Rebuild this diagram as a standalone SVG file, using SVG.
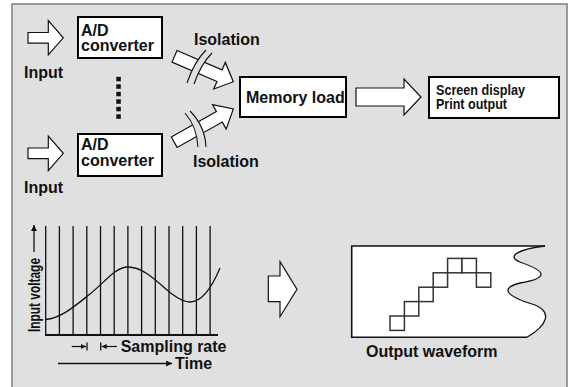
<svg xmlns="http://www.w3.org/2000/svg" width="576" height="387" viewBox="0 0 576 387">
  <style>
    .lbl { font-family: "Liberation Sans", Arial, sans-serif; font-weight: bold; font-size: 16px; fill: #111; }
    .small { font-family: "Liberation Sans", Arial, sans-serif; font-weight: bold; font-size: 14px; fill: #111; }
    .box { fill: #fff; stroke: #000; stroke-width: 2; }
    .arrow { fill: #fff; stroke: #111; stroke-width: 1.2; stroke-linejoin: miter; }
    .thin { fill: none; stroke: #111; stroke-width: 1.3; }
    .iso { fill: none; stroke: #111; stroke-width: 1.1; }
    .cell { fill: #fff; stroke: #333; stroke-width: 1.5; }
  </style>
  <defs>
    <marker id="head" viewBox="0 0 10 10" refX="10" refY="5" markerWidth="8" markerHeight="6" markerUnits="userSpaceOnUse" orient="auto">
      <path d="M0,0 L10,5 L0,10 z" fill="#111"/>
    </marker>
    <marker id="headS" viewBox="0 0 10 10" refX="10" refY="5" markerWidth="6" markerHeight="5" markerUnits="userSpaceOnUse" orient="auto">
      <path d="M0,0 L10,5 L0,10 z" fill="#111"/>
    </marker>
  </defs>

  <!-- panel background -->
  <rect x="12" y="4" width="555" height="392" fill="#e0e0e0" stroke="#858585" stroke-width="1.6"/>

  <!-- ===== acquisition chain ===== -->
  <g id="input1">
    <path class="arrow" d="M28,32.5 H48.3 V20.7 L63.3,37.8 L48.3,55 V43.2 H28 Z"/>
    <text class="lbl" x="24" y="77.5">Input</text>
  </g>
  <g id="adc1">
    <rect class="box" x="78" y="17" width="84" height="41"/>
    <text class="lbl" x="81" y="35.5">A/D</text>
    <text class="lbl" x="81" y="50.5">converter</text>
  </g>
  <g id="channel-dots" fill="#111">
    <rect x="116.3" y="76.8" width="4.5" height="4.5"/>
    <rect x="116.3" y="84.3" width="4.5" height="4.5"/>
    <rect x="116.3" y="91.8" width="4.5" height="4.5"/>
    <rect x="116.3" y="99.3" width="4.5" height="4.5"/>
    <rect x="116.3" y="106.8" width="4.5" height="4.5"/>
    <rect x="116.3" y="114.3" width="4.5" height="4.5"/>
  </g>
  <g id="input2">
    <path class="arrow" d="M28,148 H48.3 V136 L63.3,153.3 L48.3,170.7 V158.7 H28 Z"/>
    <text class="lbl" x="24" y="193">Input</text>
  </g>
  <g id="adc2">
    <rect class="box" x="78" y="134" width="84" height="42"/>
    <text class="lbl" x="81" y="150">A/D</text>
    <text class="lbl" x="81" y="166">converter</text>
  </g>

  <g id="isolation1">
    <polygon class="arrow" points="177.0,50.5 222.0,69.9 225.3,62.4 233.3,81.7 213.7,89.0 217.0,81.5 172.0,62.1"/>
    <!-- break in the shaft -->
    <path d="M206,50 Q194,62 187,83 L194,84 Q201,64 212,53 Z" fill="#e0e0e0"/>
    <path class="iso" d="M206,50 Q194,62 187,83"/>
    <path class="iso" d="M212,53 Q201,64 194,84"/>
    <text class="lbl" x="194" y="45">Isolation</text>
  </g>
  <g id="isolation2">
    <polygon class="arrow" points="171.3,137.0 216.4,111.6 212.5,104.6 233.3,109 226.2,129.1 222.3,122.1 177.1,147.4"/>
    <path d="M185,113 Q197,127 198,147 L206,147 Q205,126 190,111 Z" fill="#e0e0e0"/>
    <path class="iso" d="M185,113 Q197,127 198,147"/>
    <path class="iso" d="M190,111 Q205,126 206,147"/>
    <text class="lbl" x="193" y="166.5">Isolation</text>
  </g>

  <g id="memory">
    <rect class="box" x="240" y="77" width="106" height="40"/>
    <text class="lbl" x="246" y="103.3">Memory load</text>
  </g>
  <g id="connectors">
    <path class="arrow" d="M356,88 H404 V79 L421,97 L404,115 V106 H356 Z"/>
    <path class="arrow" d="M268.3,276 H280 V261.7 L297,289.2 L280,316.7 V301.7 H268.3 Z"/>
  </g>
  <g id="output">
    <rect class="box" x="429" y="77" width="130" height="41"/>
    <text class="small" x="436" y="95" textLength="89" lengthAdjust="spacingAndGlyphs">Screen display</text>
    <text class="small" x="436" y="108.5" textLength="71" lengthAdjust="spacingAndGlyphs">Print output</text>
  </g>

  <!-- ===== sampling chart ===== -->
  <g id="sampling-chart">
    <g stroke="#111" stroke-width="1.3">
      <line x1="45.7" y1="226" x2="45.7" y2="335"/>
      <line x1="59.4" y1="226" x2="59.4" y2="335"/>
      <line x1="73.1" y1="226" x2="73.1" y2="335"/>
      <line x1="86.8" y1="226" x2="86.8" y2="335"/>
      <line x1="100.5" y1="226" x2="100.5" y2="335"/>
      <line x1="114.2" y1="226" x2="114.2" y2="335"/>
      <line x1="127.9" y1="226" x2="127.9" y2="335"/>
      <line x1="141.6" y1="226" x2="141.6" y2="335"/>
      <line x1="155.3" y1="226" x2="155.3" y2="335"/>
      <line x1="169.0" y1="226" x2="169.0" y2="335"/>
      <line x1="182.7" y1="226" x2="182.7" y2="335"/>
      <line x1="196.4" y1="226" x2="196.4" y2="335"/>
      <line x1="210.1" y1="226" x2="210.1" y2="335"/>
    </g>
    <line x1="45" y1="335" x2="218" y2="335" stroke="#111" stroke-width="2"/>
    <path class="thin" d="M45.7,319.5 C62,318 76,305 90,294 C104,283 115,267 128,267 C145,267 160,285 172,294 C180,300 185,302 190,302 C200,302 210,292 220,268"/>
    <!-- vertical axis label -->
    <line x1="34" y1="252" x2="34" y2="225" stroke="#111" stroke-width="1.3" marker-end="url(#head)"/>
    <text class="lbl" style="font-size:16.5px" transform="translate(40,332) rotate(-90)" x="0" y="0" textLength="74" lengthAdjust="spacingAndGlyphs">Input voltage</text>
    <!-- sampling interval -->
    <line x1="71.7" y1="346.5" x2="86" y2="346.5" stroke="#111" stroke-width="1.2" marker-end="url(#headS)"/>
    <line x1="87" y1="342.5" x2="87" y2="350.5" stroke="#111" stroke-width="1.3"/>
    <line x1="100.7" y1="342.5" x2="100.7" y2="350.5" stroke="#111" stroke-width="1.3"/>
    <line x1="117" y1="346.5" x2="101.7" y2="346.5" stroke="#111" stroke-width="1.2" marker-end="url(#headS)"/>
    <text class="lbl" x="120.7" y="351.5">Sampling rate</text>
    <!-- time axis -->
    <line x1="58" y1="363.5" x2="172" y2="363.5" stroke="#111" stroke-width="1.3" marker-end="url(#head)"/>
    <text class="lbl" x="175" y="369">Time</text>
  </g>

  <!-- ===== output waveform ===== -->
  <g id="output-waveform">
    <path d="M351.7,246 H545 C520,249 505,256 520,262 C548,272 548,278 520,283 C500,288 505,296 535,305 C552,312 548,325 527,337.3 H351.7 Z" fill="#fff" stroke="none"/>
    <path d="M545,246 H351.7 V337.3 H527" fill="none" stroke="#111" stroke-width="1.6"/>
    <path d="M545,246 C520,249 505,256 520,262 C548,272 548,278 520,283 C500,288 505,296 535,305 C552,312 548,325 527,337.3" fill="none" stroke="#111" stroke-width="1.3"/>
    <rect class="cell" x="390" y="316" width="14.4" height="14.4"/>
    <rect class="cell" x="404.4" y="301.6" width="14.4" height="14.4"/>
    <rect class="cell" x="418.8" y="287.2" width="14.4" height="14.4"/>
    <rect class="cell" x="433.2" y="272.8" width="14.4" height="14.4"/>
    <rect class="cell" x="447.6" y="258.4" width="14.4" height="14.4"/>
    <rect class="cell" x="462" y="258.4" width="14.4" height="14.4"/>
    <rect class="cell" x="476.4" y="272.8" width="14.4" height="14.4"/>
    <text class="lbl" x="366" y="357">Output waveform</text>
  </g>
</svg>
